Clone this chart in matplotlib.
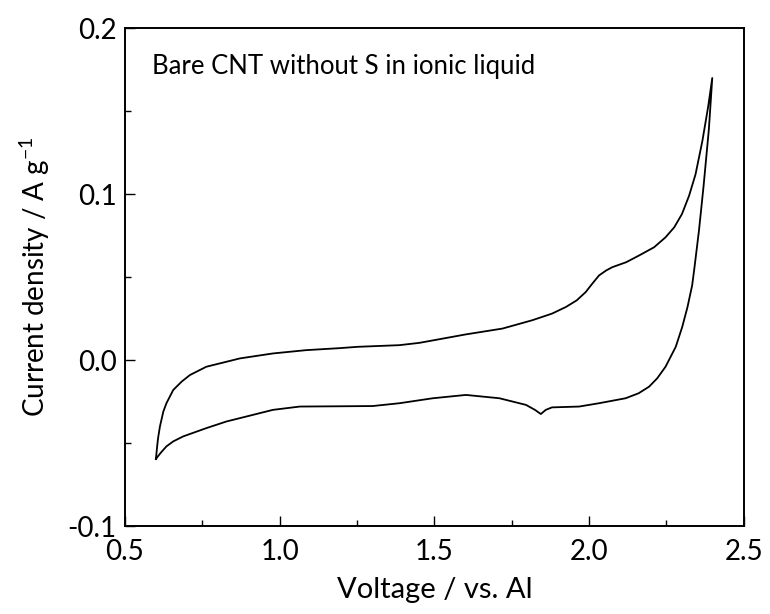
import numpy as np
import matplotlib
matplotlib.use("Agg")
import matplotlib.pyplot as plt
from matplotlib.ticker import MultipleLocator, FormatStrFormatter

plt.rcParams['font.family'] = ['Lato', 'DejaVu Sans']

# anodic sweep 0.6 V -> 2.4 V
v_up = [0.600, 0.604, 0.607, 0.613, 0.624, 0.634, 0.656, 0.683, 0.710, 0.763, 0.828,
        0.871, 0.978, 1.086, 1.194, 1.252, 1.387, 1.452, 1.602, 1.720, 1.816, 1.880,
        1.925, 1.960, 1.989, 2.010, 2.032, 2.055, 2.075, 2.120, 2.161, 2.210, 2.247,
        2.275, 2.300, 2.323, 2.344, 2.366, 2.385, 2.398]
i_up = [-0.0596, -0.052, -0.047, -0.040, -0.031, -0.026, -0.018, -0.013, -0.009, -0.004, -0.001,
        0.001, 0.004, 0.006, 0.0072, 0.008, 0.009, 0.0104, 0.0155, 0.019, 0.024, 0.028,
        0.032, 0.036, 0.041, 0.046, 0.051, 0.054, 0.056, 0.059, 0.063, 0.068, 0.074,
        0.080, 0.088, 0.099, 0.112, 0.132, 0.153, 0.170]

# cathodic sweep 2.4 V -> 0.6 V
v_down = [2.398, 2.387, 2.370, 2.355, 2.340, 2.333, 2.318, 2.301, 2.280, 2.247, 2.220,
          2.194, 2.160, 2.118, 2.032, 1.968, 1.880, 1.860, 1.844, 1.825, 1.796, 1.710,
          1.602, 1.495, 1.387, 1.300, 1.065, 0.978, 0.871, 0.828, 0.763, 0.688, 0.656,
          0.634, 0.615, 0.600]
i_down = [0.170, 0.139, 0.105, 0.078, 0.055, 0.045, 0.032, 0.020, 0.008, -0.004, -0.011,
          -0.016, -0.020, -0.023, -0.026, -0.028, -0.0285, -0.030, -0.0325, -0.030, -0.027, -0.023,
          -0.021, -0.023, -0.026, -0.0277, -0.028, -0.030, -0.035, -0.037, -0.041, -0.046, -0.049,
          -0.052, -0.056, -0.0596]

fig = plt.figure(figsize=(7.7, 6.14), dpi=100)
ax = fig.add_axes([0.1623, 0.1433, 0.8037, 0.8107])

ax.plot(v_up + v_down[1:], i_up + i_down[1:], color='black', lw=1.3,
        solid_joinstyle='round')

ax.set_xlim(0.5, 2.5)
ax.set_ylim(-0.1, 0.2)
ax.xaxis.set_major_locator(MultipleLocator(0.5))
ax.xaxis.set_minor_locator(MultipleLocator(0.25))
ax.yaxis.set_major_locator(MultipleLocator(0.1))
ax.yaxis.set_minor_locator(MultipleLocator(0.05))
ax.xaxis.set_major_formatter(FormatStrFormatter('%.1f'))
ax.yaxis.set_major_formatter(FormatStrFormatter('%.1f'))

ax.tick_params(which='both', direction='in', top=False, right=False, width=1.0)
ax.tick_params(which='major', length=7, labelsize=20)
ax.tick_params(axis='x', which='major', pad=9)
ax.tick_params(axis='y', which='major', pad=6)
ax.tick_params(which='minor', length=4)
for s in ax.spines.values():
    s.set_linewidth(1.4)

ax.set_xlabel('Voltage / vs. Al', fontsize=21, labelpad=9)
ax.set_ylabel('Current density / A g$^{\\mathregular{-1}}$', fontsize=20, labelpad=11)

ax.text(0.044, 0.923, 'Bare CNT without S in ionic liquid', transform=ax.transAxes,
        fontsize=18.5, va='center', ha='left')

fig.savefig('out.png', dpi=100)
